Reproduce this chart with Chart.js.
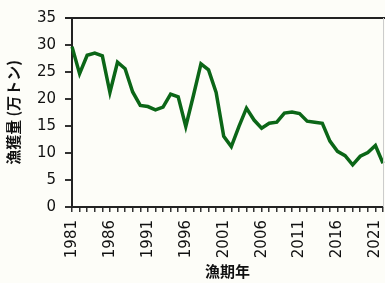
<!DOCTYPE html>
<html>
<head>
<meta charset="utf-8">
<script src="https://cdn.jsdelivr.net/npm/chart.js@4"></script>
<style>
  html, body { margin: 0; padding: 0; background: #fdfdf8; }
  #wrap { width: 385px; height: 283px; }
</style>
</head>
<body>
<div id="wrap"><canvas id="catchChart"></canvas></div>
<script>
// fishing years 1981-2022
const years = [1981, 1982, 1983, 1984, 1985, 1986, 1987, 1988, 1989, 1990,
  1991, 1992, 1993, 1994, 1995, 1996, 1997, 1998, 1999, 2000,
  2001, 2002, 2003, 2004, 2005, 2006, 2007, 2008, 2009, 2010,
  2011, 2012, 2013, 2014, 2015, 2016, 2017, 2018, 2019, 2020,
  2021, 2022];

// catch, 10,000 t
const catchAmount = [29.7, 24.7, 28.1, 28.5, 28.0, 21.2, 26.8, 25.6, 21.3, 18.8,
  18.6, 18.0, 18.5, 20.9, 20.4, 14.9, 20.6, 26.5, 25.4, 21.2,
  13.1, 11.2, 14.9, 18.3, 16.1, 14.6, 15.5, 15.7, 17.4, 17.6,
  17.3, 15.9, 15.7, 15.5, 12.2, 10.3, 9.5, 7.8, 9.4, 10.1,
  11.4, 8.1];

const labeledYears = [1981, 1986, 1991, 1996, 2001, 2006, 2011, 2016, 2021];

const yTitle = "漁獲量 (万トン)";
const xTitle = "漁期年";

const ctx = document.getElementById('catchChart');

// background + top/right frame lines
const framePlugin = {
  id: 'frame',
  beforeDraw(chart) {
    const c = chart.ctx;
    c.save();
    c.fillStyle = '#fdfdf8';
    c.fillRect(0, 0, chart.width, chart.height);
    c.restore();
  },
  afterDraw(chart) {
    const a = chart.chartArea;
    const c = chart.ctx;
    c.save();
    c.strokeStyle = '#222';
    c.lineWidth = 2;
    c.beginPath();
    c.moveTo(a.left - 7, a.top);
    c.lineTo(chart.width, a.top);
    c.stroke();
    c.strokeStyle = '#ccc';
    c.lineWidth = 1;
    c.beginPath();
    c.moveTo(a.right + 0.5, a.top);
    c.lineTo(a.right + 0.5, a.bottom);
    c.stroke();
    c.restore();
  }
};

new Chart(ctx, {
  type: 'line',
  data: {
    labels: years,
    datasets: [{
      label: '漁獲量',
      data: catchAmount,
      borderColor: '#0b6617',
      borderWidth: 3.5,
      pointRadius: 0,
      tension: 0,
      fill: false
    }]
  },
  options: {
    responsive: true,
    maintainAspectRatio: false,
    animation: false,
    layout: {
      padding: { top: 15, right: 2, left: 0, bottom: 0 }
    },
    plugins: {
      legend: { display: false },
      tooltip: { enabled: false }
    },
    scales: {
      x: {
        offset: false,
        afterFit: (scale) => {
          scale.height = 76;
          scale.paddingLeft = 0;
          scale.paddingRight = 0;
        },
        border: { display: true, color: '#222', width: 2 },
        grid: {
          display: true,
          drawOnChartArea: false,
          drawTicks: true,
          tickLength: 5,
          color: '#333',
          lineWidth: 1.5
        },
        ticks: {
          autoSkip: false,
          maxRotation: 90,
          minRotation: 90,
          padding: 8,
          color: '#111',
          font: { family: 'DejaVu Sans', size: 15 },
          callback: function (value) {
            const yr = this.getLabelForValue(value);
            return labeledYears.includes(yr) ? String(yr) : '';
          }
        },
        title: {
          display: true,
          text: xTitle,
          color: '#111',
          padding: { top: 0, bottom: 3 },
          font: { family: 'Noto Sans CJK JP', size: 15, weight: 'bold' }
        }
      },
      y: {
        min: 0,
        max: 35,
        afterFit: (scale) => { scale.width = 72; },
        border: { display: true, color: '#222', width: 2 },
        grid: {
          display: true,
          drawOnChartArea: false,
          drawTicks: true,
          tickLength: 7,
          color: '#333',
          lineWidth: 2
        },
        ticks: {
          stepSize: 5,
          padding: 9,
          color: '#111',
          font: { family: 'DejaVu Sans', size: 15 }
        },
        title: {
          display: true,
          text: yTitle,
          color: '#111',
          padding: { top: 4, bottom: 0 },
          font: { family: 'Noto Sans CJK JP', size: 15, weight: 'bold' }
        }
      }
    }
  },
  plugins: [framePlugin]
});
</script>
</body>
</html>
